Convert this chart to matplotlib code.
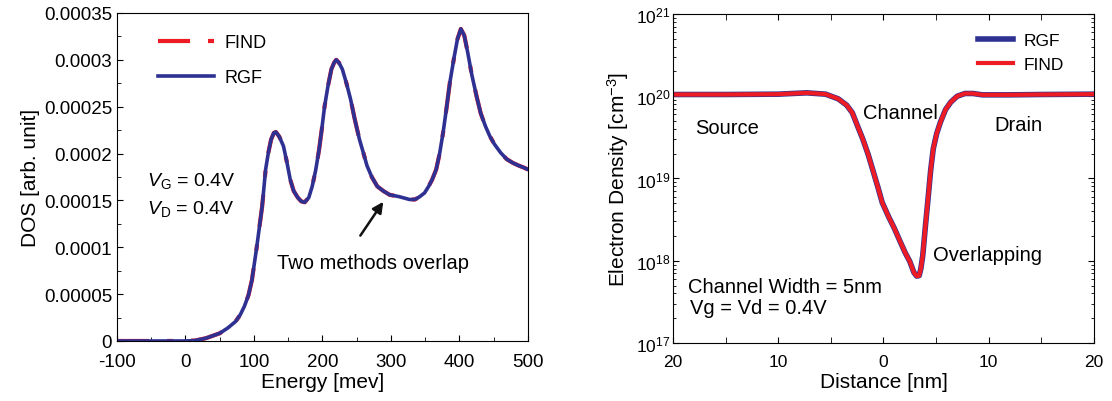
import numpy as np
import matplotlib.pyplot as plt
from matplotlib.ticker import MultipleLocator, LogLocator, NullFormatter

plt.rcParams['font.family'] = ['Liberation Sans', 'DejaVu Sans']
plt.rcParams['mathtext.fontset'] = 'custom'
plt.rcParams['mathtext.rm'] = 'Liberation Sans'
plt.rcParams['mathtext.it'] = 'Liberation Sans:italic'
plt.rcParams['axes.unicode_minus'] = False

# DOS vs energy (left panel)
energy = [-100, -50, 0, 14, 30, 50, 62, 73, 80, 86, 92, 97, 104, 112, 117, 121,
          125, 129, 132, 137, 143, 148, 153, 158, 164, 169, 174, 180, 185, 190,
          195, 199, 203, 208, 213, 217, 220, 224, 229, 235, 241, 247, 254, 260,
          265, 272, 280, 289, 298, 312, 327, 335, 342, 349, 355, 360, 366, 371,
          376, 381, 386, 392, 397, 402, 407, 412, 418, 425, 431, 438, 444, 451,
          460, 469, 478, 487, 494, 500]
dos = [0, 0, 0, 0.0000005, 0.000003, 0.0000082, 0.000014, 0.0000207, 0.000028,
       0.000037, 0.000049, 0.000065, 0.0001, 0.000144, 0.000183, 0.000201,
       0.000215, 0.000222, 0.000223, 0.000218, 0.000208, 0.000191, 0.000172,
       0.00016, 0.000153, 0.000149, 0.000148, 0.000153, 0.000165, 0.000182,
       0.000204, 0.000226, 0.00025, 0.000272, 0.00029, 0.000297, 0.0003,
       0.000297, 0.00029, 0.000275, 0.000258, 0.000237, 0.000215, 0.0002,
       0.000187, 0.000175, 0.000165, 0.00016, 0.000156, 0.000154, 0.000151,
       0.000151, 0.000154, 0.000158, 0.000165, 0.000172, 0.000183, 0.0002,
       0.000222, 0.000248, 0.000276, 0.000302, 0.000322, 0.000333, 0.000326,
       0.000308, 0.000284, 0.000261, 0.000243, 0.000229, 0.000219, 0.00021,
       0.000201, 0.000194, 0.00019, 0.000187, 0.000185, 0.000183]
dos_yticks = [0, 0.00005, 0.0001, 0.00015, 0.0002, 0.00025, 0.0003, 0.00035]
dos_ylabels = ['0', '0.00005', '0.0001', '0.00015', '0.0002', '0.00025', '0.0003', '0.00035']

# electron density vs distance (right panel)
distance = [-20, -15, -10, -7.3, -5.5, -4.3, -3.5, -2.96, -2.45, -1.96, -1.45,
            -0.95, -0.5, -0.12, 0.5, 1.05, 1.55, 2.05, 2.5, 2.89, 3.16, 3.39,
            3.55, 3.73, 3.98, 4.23, 4.48, 4.73, 5.05, 5.4, 5.9, 6.4, 7.0, 7.74,
            8.5, 9.4, 12, 15, 20]
density = [1.05e20, 1.05e20, 1.06e20, 1.1e20, 1.06e20, 9.3e19, 7.8e19, 6.3e19,
           4.3e19, 3.0e19, 1.95e19, 1.19e19, 7.6e18, 5.1e18, 3.4e18, 2.45e18,
           1.75e18, 1.26e18, 9.8e17, 7.2e17, 6.5e17, 6.6e17, 8.0e17, 1.15e18,
           2.6e18, 5.6e18, 1.25e19, 2.3e19, 3.5e19, 4.8e19, 6.9e19, 8.5e19,
           1.0e20, 1.08e20, 1.08e20, 1.04e20, 1.04e20, 1.05e20, 1.06e20]
dist_ticks = [-20, -10, 0, 10, 20]
dist_labels = ['20', '10', '0', '10', '20']

blue = '#2e3192'
red = '#ed1c24'

fig = plt.figure(figsize=(11.12, 4.02), dpi=100)

# left panel
ax1 = fig.add_axes([0.1052, 0.1493, 0.3696, 0.8159])
ax1.plot(energy, dos, color=red, lw=3.0, dashes=(7.7, 4.3, 1.5, 4.3), label='FIND')
ax1.plot(energy, dos, color=blue, lw=2.6, label='RGF')
ax1.set_xlim(-100, 500)
ax1.set_ylim(0, 0.00035)
ax1.set_yticks(dos_yticks)
ax1.set_yticklabels(dos_ylabels)
ax1.xaxis.set_major_locator(MultipleLocator(100))
ax1.xaxis.set_minor_locator(MultipleLocator(50))
ax1.yaxis.set_minor_locator(MultipleLocator(0.000025))
ax1.tick_params(which='both', direction='in', labelsize=13.5, top=False, right=False)
ax1.tick_params(which='major', length=4)
ax1.tick_params(which='minor', length=3)
ax1.tick_params(axis='x', pad=9)
ax1.tick_params(axis='y', pad=3.5)
ax1.set_xlabel('Energy [mev]', fontsize=15, labelpad=1)
ax1.set_ylabel('DOS [arb. unit]', fontsize=15, labelpad=3)
ax1.legend(loc='upper left', bbox_to_anchor=(0.06, 0.985), frameon=False,
           fontsize=13, handlelength=3.1, handletextpad=0.6, labelspacing=1.0)
ax1.text(-56, 0.000172, r'$V_{\mathrm{G}}$ = 0.4V', fontsize=14, va='center')
ax1.text(-56, 0.000142, r'$V_{\mathrm{D}}$ = 0.4V', fontsize=14, va='center')
ax1.text(133, 0.0000835, 'Two methods overlap', fontsize=14.5, va='center')
ax1.annotate('', xy=(291, 0.000151), xytext=(253, 0.00011),
             arrowprops=dict(arrowstyle='-|>', color='#111111', lw=1.8,
                             mutation_scale=16))

# right panel
ax2 = fig.add_axes([0.6052, 0.1443, 0.3786, 0.8184])
ax2.semilogy(distance, density, color=blue, lw=4.0, label='RGF')
ax2.semilogy(distance, density, color=red, lw=3.0, label='FIND')
ax2.set_xlim(-20, 20)
ax2.set_ylim(1e17, 1e21)
ax2.set_xticks(dist_ticks)
ax2.set_xticklabels(dist_labels)
ax2.xaxis.set_minor_locator(MultipleLocator(5))
ax2.yaxis.set_major_locator(LogLocator(base=10))
ax2.yaxis.set_minor_locator(LogLocator(base=10, subs=np.arange(2, 10)))
ax2.yaxis.set_minor_formatter(NullFormatter())
ax2.tick_params(which='both', direction='in', top=True, right=True, labelsize=12.5)
ax2.tick_params(which='major', length=4)
ax2.tick_params(which='minor', length=2.5)
ax2.tick_params(axis='x', which='minor', length=4)
ax2.tick_params(axis='x', pad=8)
ax2.tick_params(axis='y', pad=2)
ax2.set_xlabel('Distance [nm]', fontsize=15, labelpad=2)
ax2.set_ylabel(r'Electron Density [cm$^{-3}$]', fontsize=15, labelpad=3)
ax2.legend(loc='upper right', bbox_to_anchor=(0.965, 0.99), frameon=False,
           fontsize=12.5, handlelength=2.0, handletextpad=0.6, labelspacing=0.5)
ax2.text(-17.9, 4.2e19, 'Source', fontsize=14.5, va='center')
ax2.text(1.6, 6.4e19, 'Channel', fontsize=14.5, va='center', ha='center')
ax2.text(10.5, 4.5e19, 'Drain', fontsize=14.5, va='center')
ax2.text(4.7, 1.2e18, 'Overlapping', fontsize=14.5, va='center')
ax2.text(-18.6, 4.9e17, 'Channel Width = 5nm', fontsize=14.5, va='center')
ax2.text(-18.4, 2.7e17, 'Vg = Vd = 0.4V', fontsize=14.5, va='center')

fig.savefig('out.png', dpi=100)
